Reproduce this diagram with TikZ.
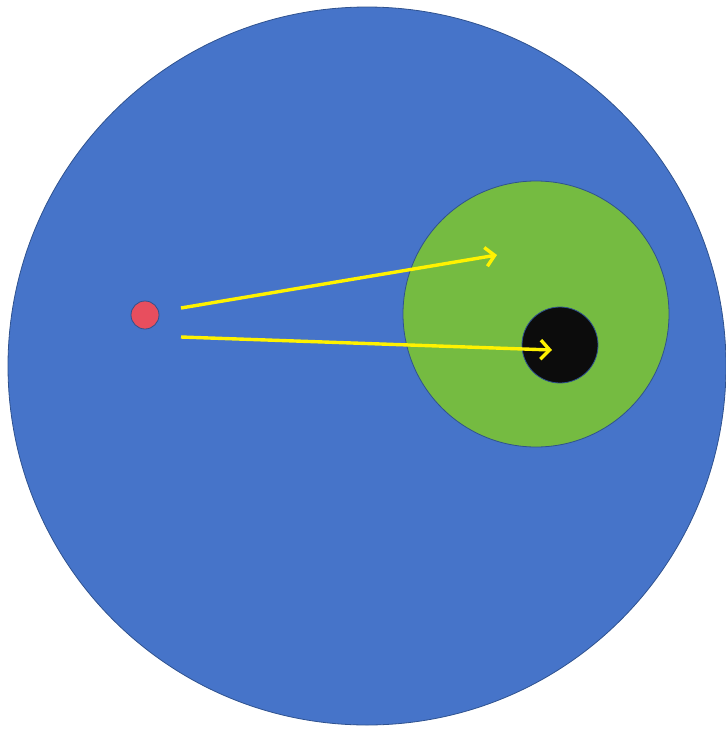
\documentclass[tikz,border=0pt]{standalone}
\usetikzlibrary{arrows.meta}
\definecolor{bigblue}{HTML}{4674C9}
\definecolor{ringgreen}{HTML}{75BB41}
\definecolor{dotred}{HTML}{E84E5E}
\definecolor{coreblack}{HTML}{0C0C0C}
\definecolor{edgeblue}{HTML}{2F528F}
\tikzset{
  disc/.style={circle, draw=edgeblue, line width=0.8pt, inner sep=0pt},
  ray/.style={draw=yellow, line width=3.4pt, -{Straight Barb[length=9pt,width=19pt,line width=3.4pt]}}
}
\begin{document}
\begin{tikzpicture}[x=1pt,y=-1pt]
\useasboundingbox (0,0) rectangle (726,729);
\node[disc, fill=bigblue, minimum size=718pt] (big) at (367,366) {};
\node[disc, fill=ringgreen, minimum size=266pt] (green) at (536,314) {};
\node[disc, fill=coreblack, minimum size=76pt] (core) at (560,345) {};
\node[disc, fill=dotred, minimum size=28pt] (dot) at (145,315) {};
\coordinate (s1) at (181,308);
\coordinate (e1) at (497,255);
\coordinate (s2) at (181,337);
\coordinate (e2) at (552,350);
\draw[ray] (s1) -- (e1);
\draw[ray] (s2) -- (e2);
\end{tikzpicture}
\end{document}
